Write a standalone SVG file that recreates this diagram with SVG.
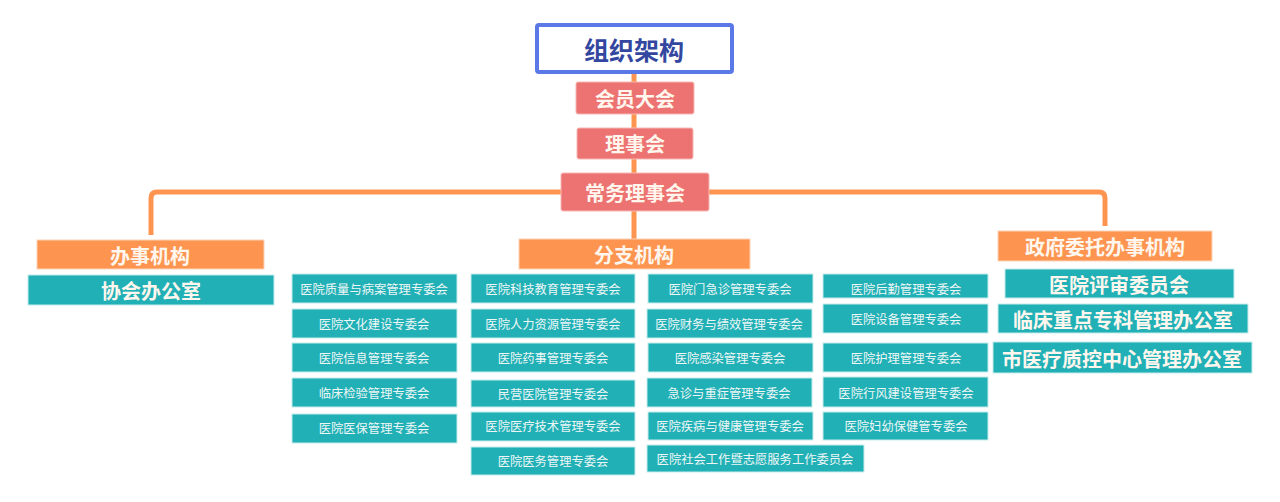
<svg xmlns="http://www.w3.org/2000/svg" width="1280" height="502" viewBox="0 0 1280 502">
<style>
text{font-family:"Noto Sans CJK SC","Noto Sans",sans-serif;text-anchor:middle;dominant-baseline:central}
.red{fill:#ec7371;stroke:#f6b8b4;stroke-width:1}
.org{fill:#fd9550;stroke:#fcd4b8;stroke-width:1}
.teal{fill:#21b0b5;stroke:#c6ecec;stroke-width:1}
.big{fill:#fff6ee;font-weight:bold;font-size:20px}
.sm{fill:#eef7f7;font-size:12.3px}
.con{fill:none;stroke:#fd9550;stroke-width:5;stroke-linecap:butt}
</style>
<rect width="1280" height="502" fill="#ffffff"/>
<g id="connectors">
<path class="con" d="M634 73V82M634 114V128M634 159V173M634 211V240"/>
<path class="con" d="M151 235V198Q151 192 157 192H561M709 192H1099Q1105 192 1105 198V226"/>
</g>
<g id="n-root"><rect x="537" y="25" width="195" height="47" rx="2" fill="#ffffff" stroke="#5b79e6" stroke-width="4"/><text x="634" y="49" font-size="25" font-weight="bold" fill="#3447a0">组织架构</text></g>
<g id="n-hydh"><rect class="red" x="576" y="82" width="118" height="32" rx="2"/><text class="big" x="635" y="98">会员大会</text></g>
<g id="n-lsh"><rect class="red" x="577" y="128" width="116" height="31" rx="2"/><text class="big" x="635" y="143">理事会</text></g>
<g id="n-cwlsh"><rect class="red" x="561" y="173" width="148" height="38" rx="2"/><text class="big" x="635" y="192">常务理事会</text></g>
<g id="n-bsjg"><rect class="org" x="37" y="240" width="227" height="29"/><text class="big" x="150" y="255">办事机构</text></g>
<g id="n-xhbgs"><rect class="teal" x="28" y="275" width="246" height="30"/><text class="big" x="151" y="290" font-size="21">协会办公室</text></g>
<g id="n-fzjg"><rect class="org" x="519" y="239" width="231" height="30"/><text class="big" x="634" y="254" font-size="21">分支机构</text></g>
<g id="n-zfwt"><rect class="org" x="998" y="231" width="214" height="30"/><text class="big" x="1105" y="246">政府委托办事机构</text></g>
<g id="n-pswyh"><rect class="teal" x="1005" y="269" width="229" height="29"/><text class="big" x="1119" y="284">医院评审委员会</text></g>
<g id="n-lczd"><rect class="teal" x="998" y="304" width="250" height="29"/><text class="big" x="1123" y="319">临床重点专科管理办公室</text></g>
<g id="n-zkzx"><rect class="teal" x="993" y="342" width="259" height="31"/><text class="big" x="1122" y="358" font-size="21">市医疗质控中心管理办公室</text></g>
<g id="c1-1"><rect class="teal" x="292" y="274" width="165" height="29"/><text class="sm" x="374" y="289">医院质量与病案管理专委会</text></g>
<g id="c1-2"><rect class="teal" x="292" y="309" width="165" height="29"/><text class="sm" x="374" y="324">医院文化建设专委会</text></g>
<g id="c1-3"><rect class="teal" x="292" y="343" width="165" height="29"/><text class="sm" x="374" y="358">医院信息管理专委会</text></g>
<g id="c1-4"><rect class="teal" x="292" y="378" width="165" height="29"/><text class="sm" x="374" y="393">临床检验管理专委会</text></g>
<g id="c1-5"><rect class="teal" x="292" y="414" width="165" height="29"/><text class="sm" x="374" y="428">医院医保管理专委会</text></g>
<g id="c2-1"><rect class="teal" x="471" y="274" width="164" height="29"/><text class="sm" x="553" y="289">医院科技教育管理专委会</text></g>
<g id="c2-2"><rect class="teal" x="471" y="309" width="164" height="29"/><text class="sm" x="553" y="324">医院人力资源管理专委会</text></g>
<g id="c2-3"><rect class="teal" x="471" y="343" width="164" height="29"/><text class="sm" x="553" y="358">医院药事管理专委会</text></g>
<g id="c2-4"><rect class="teal" x="471" y="380" width="164" height="27"/><text class="sm" x="553" y="394">民营医院管理专委会</text></g>
<g id="c2-5"><rect class="teal" x="471" y="412" width="164" height="29"/><text class="sm" x="553" y="426">医院医疗技术管理专委会</text></g>
<g id="c2-6"><rect class="teal" x="471" y="447" width="164" height="28"/><text class="sm" x="553" y="461">医院医务管理专委会</text></g>
<g id="c3-1"><rect class="teal" x="648" y="274" width="165" height="29"/><text class="sm" x="730" y="289">医院门急诊管理专委会</text></g>
<g id="c3-2"><rect class="teal" x="647" y="309" width="165" height="29"/><text class="sm" x="729" y="324">医院财务与绩效管理专委会</text></g>
<g id="c3-3"><rect class="teal" x="648" y="343" width="165" height="29"/><text class="sm" x="730" y="358">医院感染管理专委会</text></g>
<g id="c3-4"><rect class="teal" x="647" y="378" width="165" height="29"/><text class="sm" x="729" y="393">急诊与重症管理专委会</text></g>
<g id="c3-5"><rect class="teal" x="648" y="412" width="165" height="28"/><text class="sm" x="730" y="426">医院疾病与健康管理专委会</text></g>
<g id="c3-6"><rect class="teal" x="647" y="445" width="217" height="27"/><text class="sm" x="755" y="459">医院社会工作暨志愿服务工作委员会</text></g>
<g id="c4-1"><rect class="teal" x="823" y="274" width="165" height="24"/><text class="sm" x="906" y="289">医院后勤管理专委会</text></g>
<g id="c4-2"><rect class="teal" x="823" y="304" width="165" height="29"/><text class="sm" x="906" y="319">医院设备管理专委会</text></g>
<g id="c4-3"><rect class="teal" x="823" y="343" width="165" height="29"/><text class="sm" x="906" y="358">医院护理管理专委会</text></g>
<g id="c4-4"><rect class="teal" x="823" y="377" width="165" height="30"/><text class="sm" x="906" y="393">医院行风建设管理专委会</text></g>
<g id="c4-5"><rect class="teal" x="823" y="412" width="165" height="28"/><text class="sm" x="906" y="426">医院妇幼保健管专委会</text></g>
</svg>
